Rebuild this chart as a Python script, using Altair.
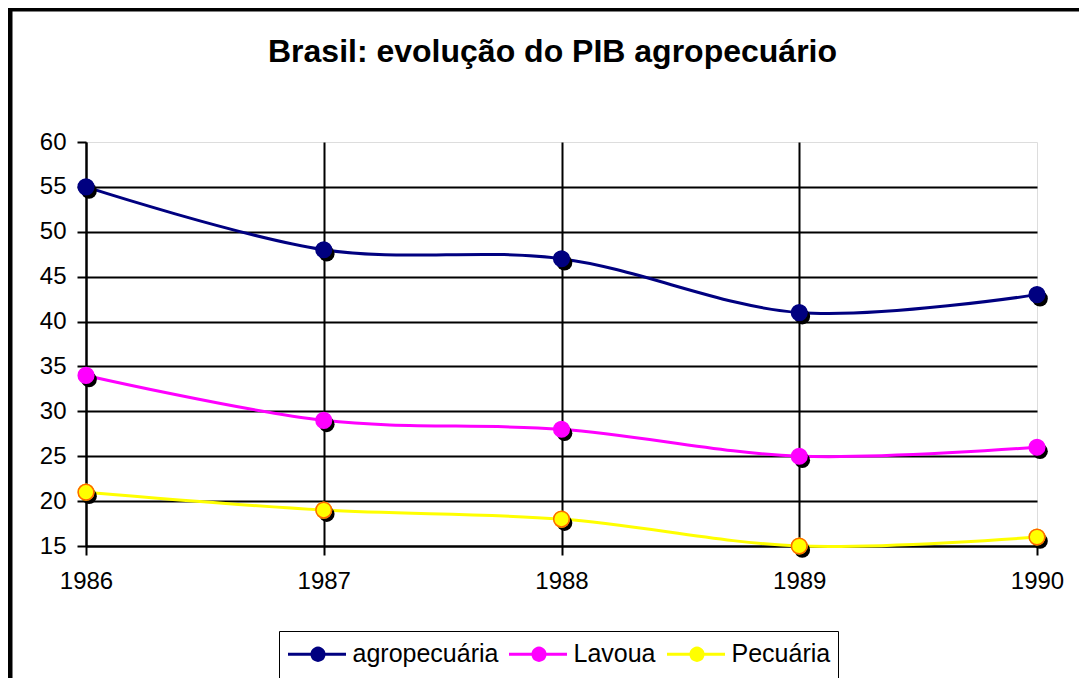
import altair as alt
import pandas as pd

# ---- data ----
years = [1986, 1987, 1988, 1989, 1990]
agropecuaria = [55, 48, 47, 41, 43]
lavoura = [34, 29, 28, 25, 26]
pecuaria = [21, 19, 18, 15, 16]
series_names = ["agropecuária", "Lavoua", "Pecuária"]
y_ticks = [15, 20, 25, 30, 35, 40, 45, 50, 55, 60]
title_text = "Brasil: evolução do PIB agropecuário"

line_colors = ["#000080", "#FF00FF", "#FFFF00"]
ring_color = "#FF6600"

rows = []
for name, vals in zip(series_names, [agropecuaria, lavoura, pecuaria]):
    for yr, v in zip(years, vals):
        rows.append({"ano": yr, "valor": v, "serie": name})
df = pd.DataFrame(rows)

FONT = "Liberation Sans"

x_enc = alt.X(
    "ano:Q",
    scale=alt.Scale(domain=[1986, 1990], nice=False, zero=False),
    axis=alt.Axis(
        values=years, format="d", title=None,
        labelFont=FONT, labelFontSize=24, labelColor="black",
        labelPadding=14, labelFlush=False, labelOverlap=False,
        tickSize=9, tickColor="black", tickWidth=2,
        domainColor="black", domainWidth=2,
        grid=True, gridColor="black", gridWidth=2,
        gridOpacity={"condition": {"test": "datum.value == 1990", "value": 0}, "value": 1},
    ),
)
y_enc = alt.Y(
    "valor:Q",
    scale=alt.Scale(domain=[15, 60], nice=False, zero=False),
    axis=alt.Axis(
        values=y_ticks, title=None,
        labelFont=FONT, labelFontSize=24, labelColor="black",
        labelPadding=11, labelFlush=False, labelOverlap=False,
        tickSize=9, tickColor="black", tickWidth=2,
        domainColor="black", domainWidth=2,
        grid=True, gridColor="black", gridWidth=2,
        gridOpacity={"condition": {"test": "datum.value == 60", "value": 0}, "value": 1},
    ),
)

# legend symbol: a line with a circle on it (unit box scaled by sqrt(symbolSize)/2 = 14px)
sym_path = ("M-1,0L3.143,0M1.143,-1M1.143,1"
            "M1.571,0A0.4286,0.4286,0,1,1,0.714,0A0.4286,0.4286,0,1,1,1.571,0Z")
legend = alt.Legend(
    title=None, orient="none", legendX=193, legendY=489, direction="horizontal", columns=3,
    labelFont=FONT, labelFontSize=25, labelColor="black", labelOffset=35,
    columnPadding=4, padding=7.5, symbolSize=784, symbolType=sym_path,
    symbolStrokeWidth=3, symbolOffset=0, symbolFillColor="#000080", symbolOpacity=1,
    strokeColor="black",
)

base = alt.Chart(df)

# line colour scale kept separate (reversed domain) so it is not merged with the legend scales
lines = base.mark_line(interpolate="cardinal", strokeWidth=3).encode(
    x=x_enc, y=y_enc,
    color=alt.Color("serie:N",
                    scale=alt.Scale(domain=series_names[::-1], range=line_colors[::-1]),
                    legend=None),
)

shadows = base.mark_circle(color="black", size=245, opacity=1, xOffset=3, yOffset=4).encode(
    x="ano:Q", y="valor:Q",
)

points = base.mark_point(filled=True, size=245, strokeWidth=1.5, opacity=1).encode(
    x="ano:Q", y="valor:Q",
    fill=alt.Fill("serie:N", scale=alt.Scale(domain=series_names, range=line_colors),
                  legend=legend),
    stroke=alt.Stroke("serie:N", scale=alt.Scale(domain=series_names, range=line_colors),
                      legend=legend),
)

rings = base.transform_filter(alt.datum.serie == "Pecuária").mark_point(
    filled=False, stroke=ring_color, strokeWidth=1.5, size=245, opacity=1
).encode(x="ano:Q", y="valor:Q")

frame = alt.Chart(alt.Data(values=[{"k": 1}])).mark_rect(
    fill="transparent", stroke="black", strokeWidth=5
).encode(
    x=alt.value(-76), x2=alt.value(1200), y=alt.value(-133), y2=alt.value(800)
)

chart = alt.layer(frame, lines, shadows, points, rings).properties(
    width=951, height=404,
    title=alt.TitleParams(
        text=title_text, font=FONT, fontSize=32, fontWeight="bold", color="black",
        anchor="middle", frame="group", offset=0, baseline="alphabetic", dx=-9, dy=87.5,
    ),
    autosize=alt.AutoSizeParams(type="none"),
    padding={"left": 78, "top": 134, "right": 42, "bottom": 132},
).configure_view(
    fill="#C0C0C0", stroke=None
).configure_legend(
    strokeWidth=2
).configure(background="white")

chart.save("out.html", embed_options={"renderer": "svg", "actions": False})
